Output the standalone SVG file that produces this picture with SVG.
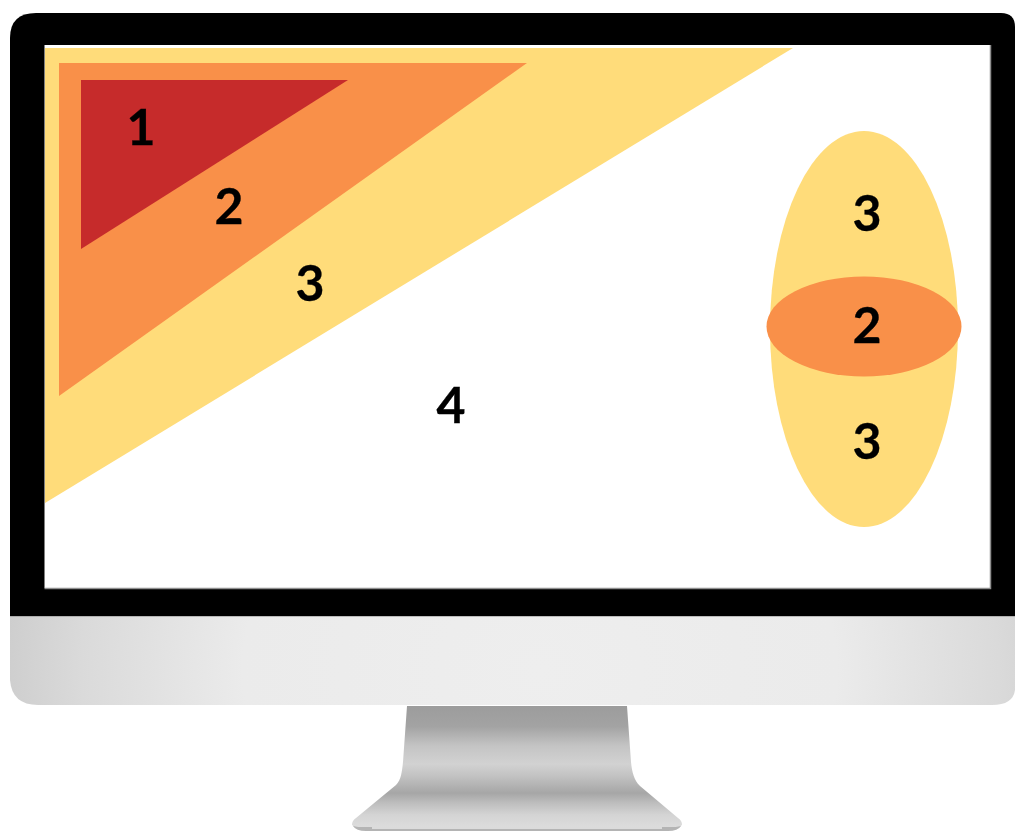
<svg xmlns="http://www.w3.org/2000/svg" width="1015" height="831" viewBox="0 0 1015 831">
<style>
.n{font-family:Lato,"Noto Sans","Liberation Sans",sans-serif;font-weight:700;font-size:50px;fill:#000;stroke:#000;stroke-width:.3px;text-anchor:middle}
</style>
<defs>
<radialGradient id="chin" gradientUnits="userSpaceOnUse" cx="540" cy="670" r="540" gradientTransform="translate(540 670) scale(1 .8) translate(-540 -670)">
<stop offset="0" stop-color="#eeeeee"/><stop offset=".55" stop-color="#ebebeb"/><stop offset=".85" stop-color="#dadada"/><stop offset="1" stop-color="#cdcdcd"/>
</radialGradient>
<linearGradient id="stand" x1="0" y1="0" x2="0" y2="1">
<stop offset="0" stop-color="#9c9c9c"/><stop offset=".17" stop-color="#a3a3a3"/><stop offset=".33" stop-color="#c4c4c4"/><stop offset=".48" stop-color="#d2d2d2"/><stop offset=".58" stop-color="#c2c2c2"/><stop offset=".72" stop-color="#a6a6a6"/><stop offset=".8" stop-color="#bdbdbd"/><stop offset=".9" stop-color="#d4d4d4"/><stop offset="1" stop-color="#dcdcdc"/>
</linearGradient>
</defs>
<rect width="1015" height="831" fill="#fff"/>
<g id="monitor">
<path d="M353 826Q356 831 366 831H668Q678 831 681 826V822H353Z" fill="#b4b4b4"/>
<path d="M352 825C352 822 353 820 356 818L396 785C401 780 402 772 403 762L407 706H627L631 762C632 772 634 780 640 786L678 818C681 820 682 822 682 825Q680 827 672 827H362Q354 827 352 825Z" fill="url(#stand)"/>
<path d="M372 828H662" stroke="#e8e8e8" stroke-width="1.500" fill="none"/>
<path d="M10 616H1015V690Q1013 705 992 705H38Q12 705 10 680Z" fill="url(#chin)"/>
<path d="M10 616H1015" stroke="#8a8a8a" stroke-width="1"/>
<path d="M10 616V38Q10 13 36 13H1001Q1015 13 1015 27V616Z" fill="#000"/>
<rect x="44.500" y="45" width="945.500" height="543" fill="#fff"/>
<path d="M44.500 588.500H990.500V45" fill="none" stroke="#8f8f8f" stroke-width="1.500"/>
</g>
<g id="zone-3-triangle"><polygon points="45,48 793,48 45,503" fill="#ffdc7a"/></g>
<g id="zone-2-triangle"><polygon points="59,63 527,63 59,396" fill="#f99049"/></g>
<g id="zone-1-triangle"><polygon points="81,80 348,80 81,249" fill="#c62b2b"/></g>
<g id="zone-3-ellipse"><ellipse cx="864" cy="329" rx="94" ry="198" fill="#ffdc7a"/></g>
<g id="zone-2-ellipse"><ellipse cx="864" cy="326.500" rx="97.500" ry="50" fill="#f99049"/></g>
<g id="labels">
<text class="n" x="141" y="145">1</text>
<text class="n" x="229" y="224">2</text>
<text class="n" x="310" y="301">3</text>
<text class="n" x="451" y="423">4</text>
<text class="n" x="867" y="231">3</text>
<text class="n" x="867" y="343">2</text>
<text class="n" x="867" y="459">3</text>
</g>
</svg>
